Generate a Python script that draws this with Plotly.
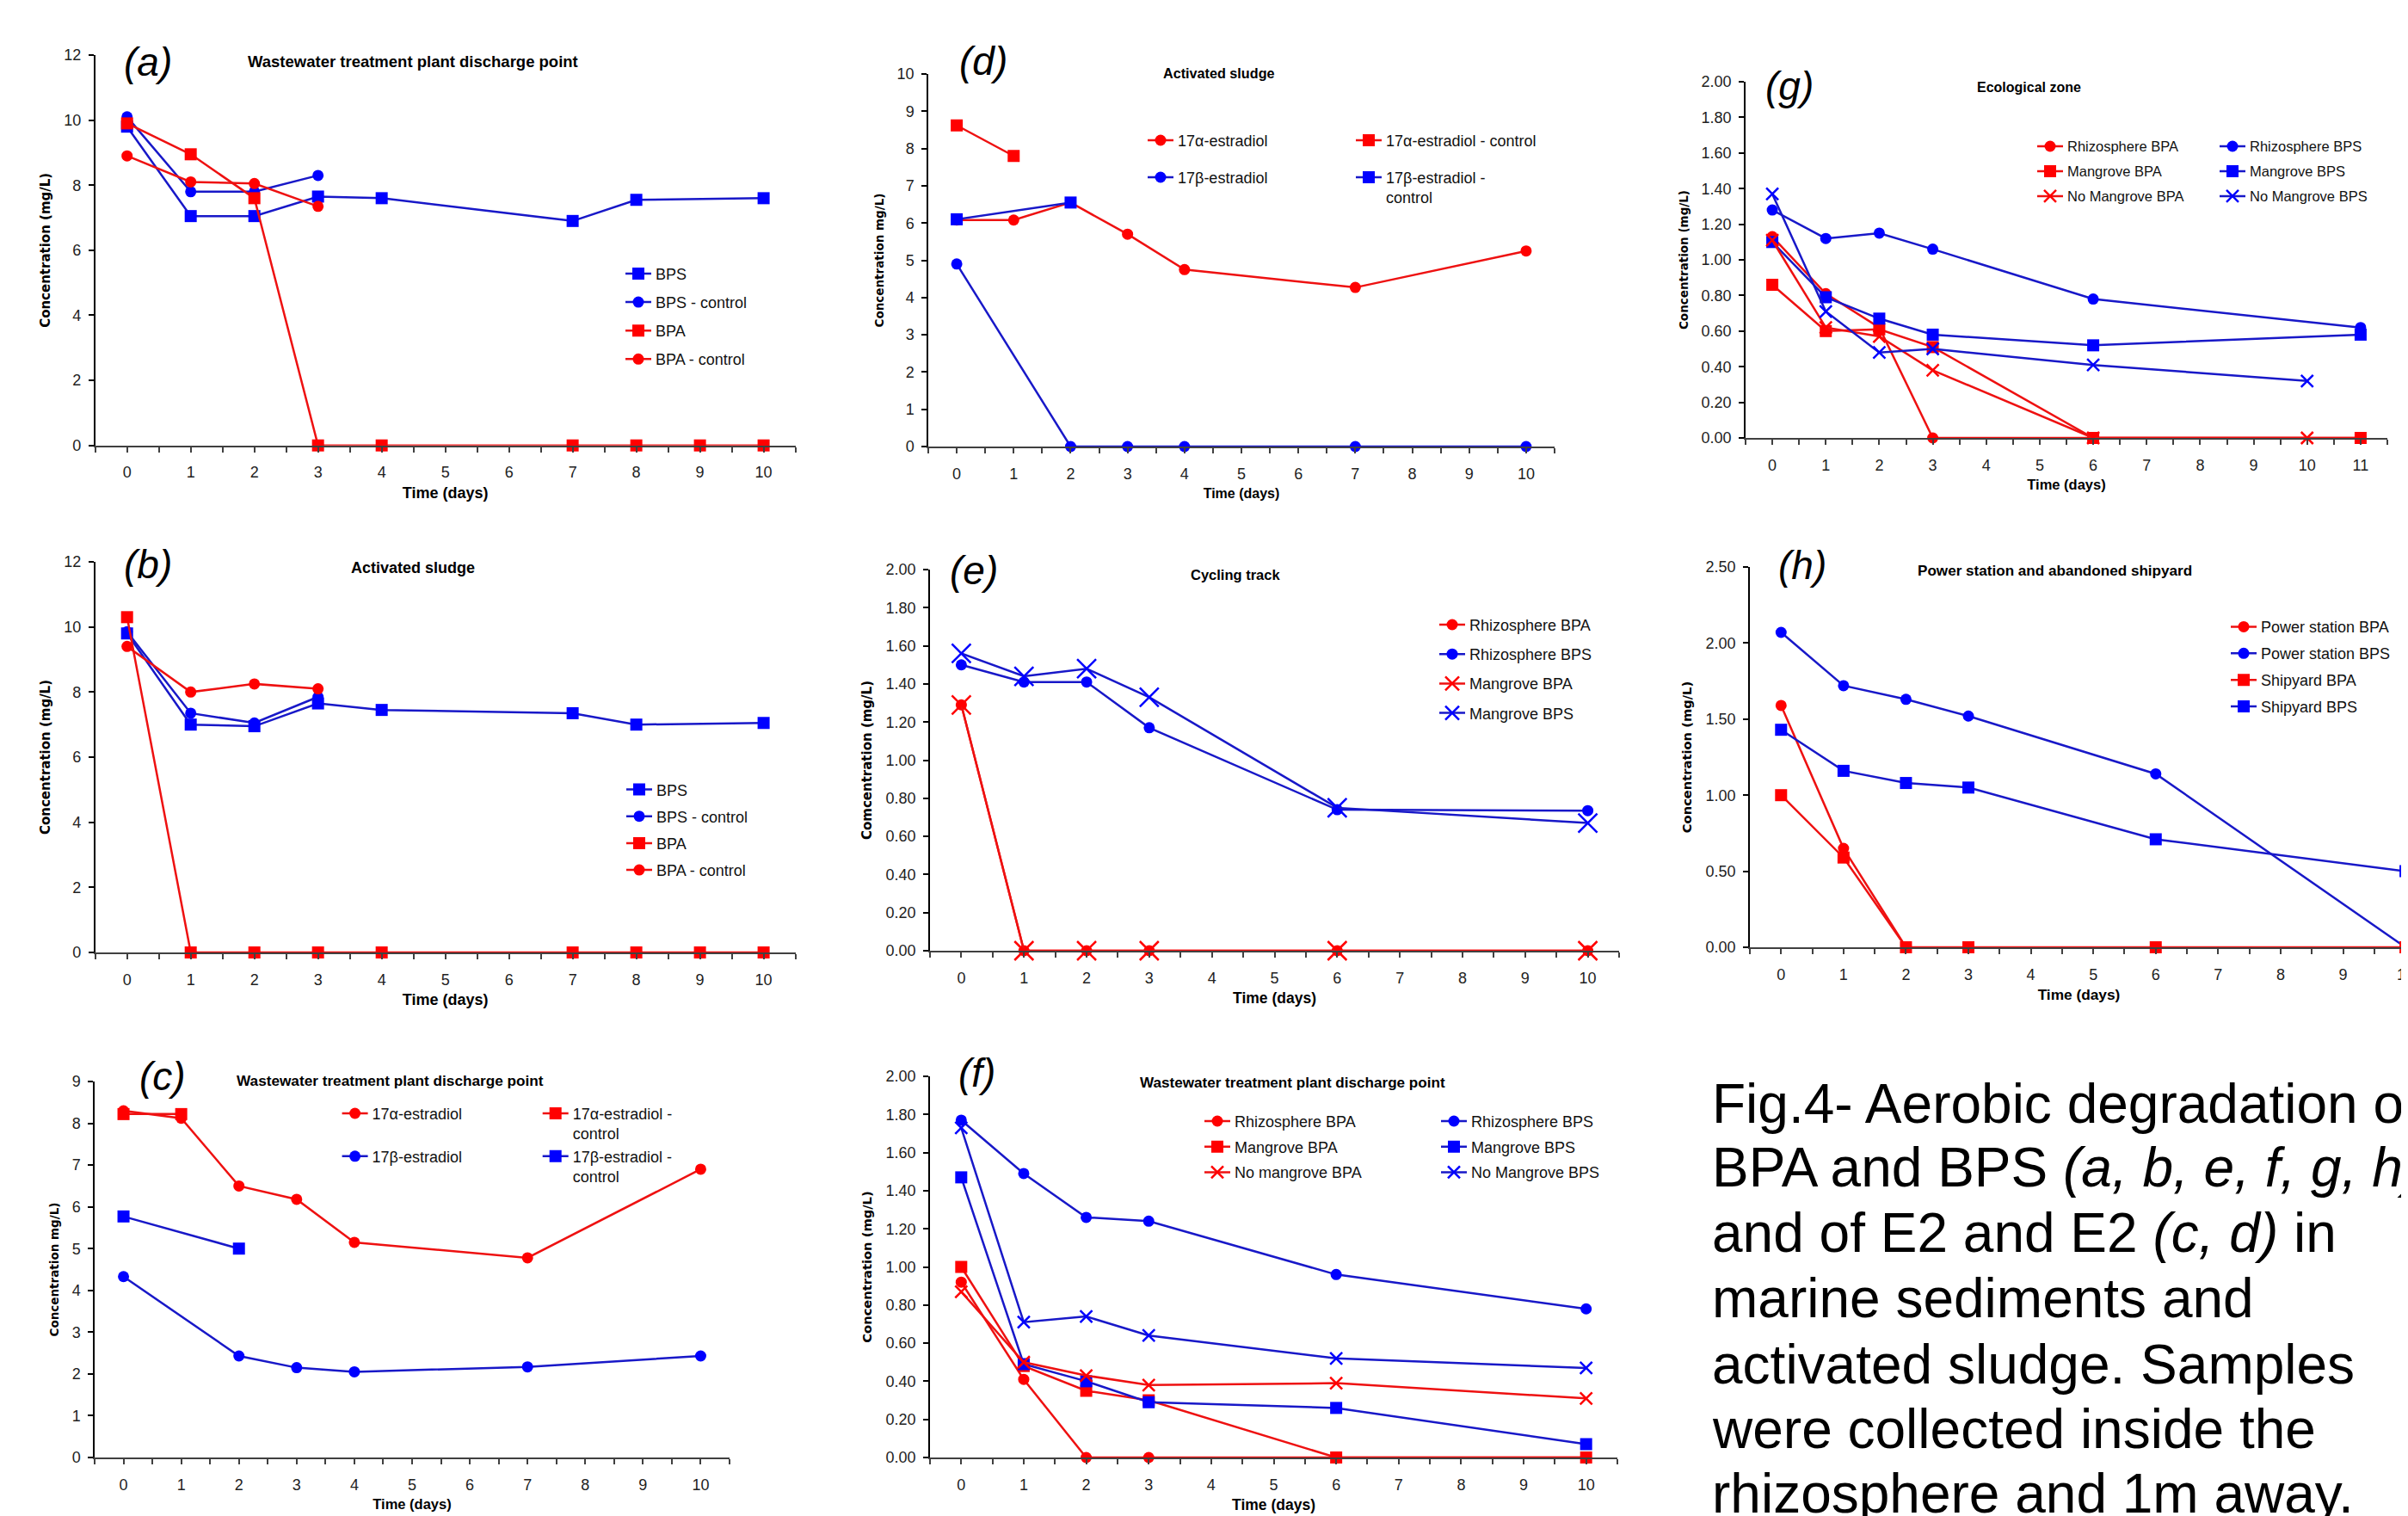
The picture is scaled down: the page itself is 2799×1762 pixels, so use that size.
import plotly.graph_objects as go

W, H = 2799, 1762
OFF = 8  # the page body margin shifts the figure by this many px
FW, FH = W - OFF, H - OFF

RED_L, RED_M = "#EE1111", "#FF0000"
BLUE_L, BLUE_M = "#1818C8", "#0000FF"

SQ, CI, XS, XL = 14, 13, 14, 22  # marker sizes: square, circle, small x, large x

# ---------------- data ----------------
# (a) Wastewater treatment plant discharge point
A_BPS_X, A_BPS_Y = [0, 1, 2, 3, 4, 7, 8, 10], [9.8, 7.05, 7.05, 7.65, 7.6, 6.9, 7.55, 7.6]
A_BPSC_X, A_BPSC_Y = [0, 1, 2, 3], [10.1, 7.8, 7.8, 8.3]
A_BPA_X, A_BPA_Y = [0, 1, 2, 3, 4, 7, 8, 9, 10], [9.9, 8.95, 7.6, 0, 0, 0, 0, 0, 0]
A_BPAC_X, A_BPAC_Y = [0, 1, 2, 3], [8.9, 8.1, 8.05, 7.35]
# (b) Activated sludge
B_BPS_X, B_BPS_Y = [0, 1, 2, 3, 4, 7, 8, 10], [9.8, 7.0, 6.95, 7.65, 7.45, 7.35, 7.0, 7.05]
B_BPSC_X, B_BPSC_Y = [0, 1, 2, 3], [9.85, 7.35, 7.05, 7.85]
B_BPA_X, B_BPA_Y = [0, 1, 2, 3, 4, 7, 8, 9, 10], [10.3, 0, 0, 0, 0, 0, 0, 0, 0]
B_BPAC_X, B_BPAC_Y = [0, 1, 2, 3], [9.4, 8.0, 8.25, 8.1]
# (c) Wastewater treatment plant discharge point (estradiol)
C_A_X, C_A_Y = [0, 1, 2, 3, 4, 7, 10], [8.3, 8.12, 6.5, 6.18, 5.15, 4.78, 6.9]
C_AC_X, C_AC_Y = [0, 1], [8.22, 8.22]
C_B_X, C_B_Y = [0, 2, 3, 4, 7, 10], [4.33, 2.43, 2.15, 2.05, 2.17, 2.43]
C_BC_X, C_BC_Y = [0, 2], [5.77, 5.0]
# (d) Activated sludge (estradiol)
D_A_X, D_A_Y = [0, 1, 2, 3, 4, 7, 10], [6.08, 6.08, 6.55, 5.7, 4.75, 4.27, 5.25]
D_AC_X, D_AC_Y = [0, 1], [8.62, 7.8]
D_B_X, D_B_Y = [0, 2, 3, 4, 7, 10], [4.9, 0, 0, 0, 0, 0]
D_BC_X, D_BC_Y = [0, 2], [6.1, 6.55]
# (e) Cycling track
E_X = [0, 1, 2, 3, 6, 10]
E_RBPA_Y = [1.29, 0, 0, 0, 0, 0]
E_RBPS_Y = [1.50, 1.41, 1.41, 1.17, 0.74, 0.735]
E_MBPA_Y = [1.29, 0, 0, 0, 0, 0]
E_MBPS_Y = [1.56, 1.44, 1.48, 1.33, 0.75, 0.67]
# (f) Wastewater treatment plant discharge point (sediments)
F_X = [0, 1, 2, 3, 6, 10]
F_RBPA_Y = [0.92, 0.41, 0, 0, 0, 0]
F_RBPS_Y = [1.77, 1.49, 1.26, 1.24, 0.96, 0.78]
F_MBPA_Y = [1.0, 0.48, 0.35, 0.30, 0, 0]
F_MBPS_Y = [1.47, 0.49, 0.40, 0.29, 0.26, 0.07]
F_NBPA_Y = [0.87, 0.50, 0.43, 0.38, 0.39, 0.31]
F_NBPS_Y = [1.73, 0.71, 0.74, 0.64, 0.52, 0.47]
# (g) Ecological zone
G_RBPA_X, G_RBPA_Y = [0, 1, 2, 3, 6, 11], [1.13, 0.81, 0.62, 0, 0, 0]
G_RBPS_X, G_RBPS_Y = [0, 1, 2, 3, 6, 11], [1.28, 1.12, 1.15, 1.06, 0.78, 0.62]
G_MBPA_X, G_MBPA_Y = [0, 1, 2, 3, 6, 11], [0.86, 0.60, 0.61, 0.51, 0, 0]
G_MBPS_X, G_MBPS_Y = [0, 1, 2, 3, 6, 11], [1.10, 0.79, 0.67, 0.58, 0.52, 0.58]
G_NBPA_X, G_NBPA_Y = [0, 1, 2, 3, 6, 10], [1.11, 0.62, 0.57, 0.38, 0, 0]
G_NBPS_X, G_NBPS_Y = [0, 1, 2, 3, 6, 10], [1.37, 0.71, 0.48, 0.50, 0.41, 0.32]
# (h) Power station and abandoned shipyard
H_PBPA_X, H_PBPA_Y = [0, 1, 2], [1.59, 0.65, 0]
H_PBPS_X, H_PBPS_Y = [0, 1, 2, 3, 6, 10], [2.07, 1.72, 1.63, 1.52, 1.14, 0.0]
H_SBPA_X, H_SBPA_Y = [0, 1, 2, 3, 6, 10], [1.0, 0.59, 0, 0, 0, 0]
H_SBPS_X, H_SBPS_Y = [0, 1, 2, 3, 6, 10], [1.43, 1.16, 1.08, 1.05, 0.71, 0.50]

DAY_LABELS_10 = [str(i) for i in range(11)]
DAY_LABELS_11 = [str(i) for i in range(12)]

CAPTION = [
    "Fig.4- Aerobic degradation of",
    "BPA and BPS <i>(a, b, e, f, g, h)</i>",
    "and of E2 and E2 <i>(c, d)</i> in",
    "marine sediments and",
    "activated sludge. Samples",
    "were collected inside the",
    "rhizosphere and 1m away.",
]

# ---------------- styling ----------------
FONT = "Liberation Sans, Arial, sans-serif"
YT_FONT = "DejaVu Sans, Verdana, sans-serif"

fig = go.Figure()


def px_x(v):
    return (v - OFF) / FW


def px_y(v):
    return 1 - (v - OFF) / FH


def add(ax, legend, x, y, name, red, symbol, size=12):
    lc, mc = (RED_L, RED_M) if red else (BLUE_L, BLUE_M)
    if symbol == "x-thin":
        marker = dict(symbol="x-thin", size=size, color=mc, line=dict(width=2.5, color=mc))
    else:
        marker = dict(symbol=symbol, size=size, color=mc, line=dict(width=0))
    sfx = "" if ax == 1 else str(ax)
    fig.add_trace(go.Scatter(
        x=x, y=y, name=name, mode="lines+markers",
        xaxis="x" + sfx, yaxis="y" + sfx,
        legend=legend, legendgroup=f"p{ax}-{name}",
        line=dict(color=lc, width=2.5), marker=marker,
        hoverinfo="x+y+name", cliponaxis=False,
    ))


# panel (a)
add(1, "legend", A_BPS_X, A_BPS_Y, "BPS", False, "square", SQ)
add(1, "legend", A_BPSC_X, A_BPSC_Y, "BPS - control", False, "circle", CI)
add(1, "legend", A_BPA_X, A_BPA_Y, "BPA", True, "square", SQ)
add(1, "legend", A_BPAC_X, A_BPAC_Y, "BPA - control", True, "circle", CI)
# panel (b)
add(2, "legend2", B_BPS_X, B_BPS_Y, "BPS", False, "square", SQ)
add(2, "legend2", B_BPSC_X, B_BPSC_Y, "BPS - control", False, "circle", CI)
add(2, "legend2", B_BPA_X, B_BPA_Y, "BPA", True, "square", SQ)
add(2, "legend2", B_BPAC_X, B_BPAC_Y, "BPA - control", True, "circle", CI)
# panel (c)
add(3, "legend3", C_A_X, C_A_Y, "17α-estradiol", True, "circle", CI)
add(3, "legend4", C_AC_X, C_AC_Y, "17α-estradiol -<br>control", True, "square", SQ)
add(3, "legend3", C_B_X, C_B_Y, "17β-estradiol", False, "circle", CI)
add(3, "legend4", C_BC_X, C_BC_Y, "17β-estradiol -<br>control", False, "square", SQ)
# panel (d)
add(4, "legend5", D_A_X, D_A_Y, "17α-estradiol", True, "circle", CI)
add(4, "legend6", D_AC_X, D_AC_Y, "17α-estradiol - control", True, "square", SQ)
add(4, "legend5", D_B_X, D_B_Y, "17β-estradiol", False, "circle", CI)
add(4, "legend6", D_BC_X, D_BC_Y, "17β-estradiol -<br>control", False, "square", SQ)
# panel (e)
add(5, "legend7", E_X, E_RBPA_Y, "Rhizosphere BPA", True, "circle", CI)
add(5, "legend7", E_X, E_RBPS_Y, "Rhizosphere BPS", False, "circle", CI)
add(5, "legend7", E_X, E_MBPA_Y, "Mangrove BPA", True, "x-thin", XL)
add(5, "legend7", E_X, E_MBPS_Y, "Mangrove BPS", False, "x-thin", XL)
# panel (f)
add(6, "legend8", F_X, F_RBPA_Y, "Rhizosphere BPA", True, "circle", CI)
add(6, "legend9", F_X, F_RBPS_Y, "Rhizosphere BPS", False, "circle", CI)
add(6, "legend8", F_X, F_MBPA_Y, "Mangrove BPA", True, "square", SQ)
add(6, "legend9", F_X, F_MBPS_Y, "Mangrove BPS", False, "square", SQ)
add(6, "legend8", F_X, F_NBPA_Y, "No mangrove BPA", True, "x-thin", XS)
add(6, "legend9", F_X, F_NBPS_Y, "No Mangrove BPS", False, "x-thin", XS)
# panel (g)
add(7, "legend10", G_RBPA_X, G_RBPA_Y, "Rhizosphere BPA", True, "circle", CI)
add(7, "legend11", G_RBPS_X, G_RBPS_Y, "Rhizosphere BPS", False, "circle", CI)
add(7, "legend10", G_MBPA_X, G_MBPA_Y, "Mangrove BPA", True, "square", SQ)
add(7, "legend11", G_MBPS_X, G_MBPS_Y, "Mangrove BPS", False, "square", SQ)
add(7, "legend10", G_NBPA_X, G_NBPA_Y, "No Mangrove BPA", True, "x-thin", XS)
add(7, "legend11", G_NBPS_X, G_NBPS_Y, "No Mangrove BPS", False, "x-thin", XS)
# panel (h)
add(8, "legend12", H_PBPA_X, H_PBPA_Y, "Power station BPA", True, "circle", CI)
add(8, "legend12", H_PBPS_X, H_PBPS_Y, "Power station BPS", False, "circle", CI)
add(8, "legend12", H_SBPA_X, H_SBPA_Y, "Shipyard BPA", True, "square", SQ)
add(8, "legend12", H_SBPS_X, H_SBPS_Y, "Shipyard BPS", False, "square", SQ)

# ---------------- axes ----------------
PANELS = [
    dict(box=(110.7, 924.6, 64, 517.7), xmax=10.5, labels=DAY_LABELS_10, ymax=12, dtick=2, fmt="d",
         ytitle="Concentration (mg/L)", yts=15, xts=18),
    dict(box=(110.7, 924.6, 653, 1107), xmax=10.5, labels=DAY_LABELS_10, ymax=12, dtick=2, fmt="d",
         ytitle="Concentration (mg/L)", yts=15, xts=18),
    dict(box=(110, 848, 1257, 1694), xmax=10.5, labels=DAY_LABELS_10, ymax=9, dtick=1, fmt="d",
         ytitle="Concentration mg/L)", yts=13.5, xts=16.5),
    dict(box=(1079, 1807, 86, 519), xmax=10.5, labels=DAY_LABELS_10, ymax=10, dtick=1, fmt="d",
         ytitle="Concentration mg/L)", yts=13.5, xts=16),
    dict(box=(1081, 1882, 662, 1105), xmax=10.5, labels=DAY_LABELS_10, ymax=2, dtick=0.2, fmt=".2f",
         ytitle="Comcentration (mg/L)", yts=15, xts=17.5),
    dict(box=(1081, 1880, 1251, 1694), xmax=10.5, labels=DAY_LABELS_10, ymax=2, dtick=0.2, fmt=".2f",
         ytitle="Concentration (mg/L)", yts=14.7, xts=17.5),
    dict(box=(2029, 2775, 95, 509), xmax=11.5, labels=DAY_LABELS_11, ymax=2, dtick=0.2, fmt=".2f",
         ytitle="Concentration (mg/L)", yts=13.5, xts=16.5),
    dict(box=(2034, 2799, 659, 1101), xmax=10.04, labels=DAY_LABELS_10, ymax=2.5, dtick=0.5, fmt=".2f",
         ytitle="Concentration (mg/L)", yts=14.7, xts=17.3),
]

layout = dict(
    width=FW, height=FH, margin=dict(l=0, r=0, t=0, b=0, autoexpand=False),
    paper_bgcolor="white", plot_bgcolor="white", showlegend=True,
    font=dict(family=FONT, color="black"),
)

for i, p in enumerate(PANELS, start=1):
    l, r, t, b = p["box"]
    sfx = "" if i == 1 else str(i)
    tv, tt = [], []
    k = -0.5
    while k <= p["xmax"] + 1e-9:
        tv.append(k)
        tt.append(p["labels"][int(k)] if float(k).is_integer() else "")
        k += 0.5
    layout["xaxis" + sfx] = dict(
        domain=[px_x(l), min(px_x(r), 1.0)], range=[-0.5, p["xmax"]], anchor="y" + sfx,
        tickmode="array", tickvals=tv, ticktext=tt, automargin=False, ticklabeloverflow="allow",
        ticks="outside", ticklen=6, tickwidth=1.5, tickcolor="#404040",
        showline=True, linecolor="#404040", linewidth=2,
        showgrid=False, zeroline=False,
        tickfont=dict(family=FONT, size=18, color="#222"), ticklabelstandoff=8,
        title=dict(text="<b>Time (days)</b>", font=dict(family=FONT, size=p["xts"]), standoff=8),
    )
    layout["yaxis" + sfx] = dict(
        domain=[px_y(b), px_y(t)], range=[0, p["ymax"]], anchor="x" + sfx,
        dtick=p["dtick"], tick0=0, tickformat=p["fmt"], automargin=False,
        ticks="outside", ticklen=6, tickwidth=1.5, tickcolor="black",
        showline=True, linecolor="black", linewidth=1.5,
        showgrid=False, zeroline=False,
        tickfont=dict(family=FONT, size=18, color="#222"), ticklabelstandoff=5,
        title=dict(text="<b>" + p["ytitle"] + "</b>", font=dict(family=YT_FONT, size=p["yts"]), standoff=12),
    )

# ---------------- legends ----------------
# (name, text-x px, first row centre px, font size, gap, valign)
LEGENDS = [
    ("legend", 762, 318, 18, 6.7, "middle"),
    ("legend2", 763, 917.5, 18, 4.8, "middle"),
    ("legend3", 432.6, 1294, 18, 23.4, "middle"),
    ("legend4", 665.7, 1294, 18, 0, "top"),
    ("legend5", 1369, 163, 18, 16.6, "middle"),
    ("legend6", 1611, 163, 18, 16.6, "top"),
    ("legend7", 1708, 726, 18, 7.8, "middle"),
    ("legend8", 1435, 1303, 18, 3.3, "middle"),
    ("legend9", 1710, 1303, 18, 3.3, "middle"),
    ("legend10", 2403, 170, 16.5, 4.5, "middle"),
    ("legend11", 2615, 170, 16.5, 4.5, "middle"),
    ("legend12", 2628, 728.4, 18, 4.5, "middle"),
]
for name, tx, cy, fs, gap, va in LEGENDS:
    item_h = fs * 1.3 + 3
    top = cy - 5 - item_h / 2
    layout[name] = dict(
        x=px_x(tx - 40), y=px_y(top), xanchor="left", yanchor="top",
        bgcolor="rgba(0,0,0,0)", borderwidth=0, font=dict(family=FONT, size=fs, color="#111"),
        tracegroupgap=gap, itemwidth=30, valign=va, traceorder="grouped",
    )

# ---------------- annotations ----------------
ann = []
TITLES = [
    ("Wastewater treatment plant discharge point", 480, 71, 18.5),
    ("Activated sludge", 480, 660, 18),
    ("Wastewater treatment plant discharge point", 453.5, 1256, 17.2),
    ("Activated sludge", 1417, 85, 16.2),
    ("Cycling track", 1435.5, 668, 16.5),
    ("Wastewater treatment plant discharge point", 1502.5, 1258, 17.1),
    ("Ecological zone", 2358.5, 101, 16),
    ("Power station and abandoned shipyard", 2388.5, 663, 17.1),
]
for txt, x, y, fs in TITLES:
    ann.append(dict(text="<b>" + txt + "</b>", x=px_x(x), y=px_y(y), xref="paper", yref="paper",
                    xanchor="center", yanchor="middle", showarrow=False,
                    font=dict(family=FONT, size=fs, color="black")))

PANEL_LABELS = [("(a)", 142, 72), ("(b)", 142, 656), ("(c)", 160, 1251), ("(d)", 1113, 71),
                ("(e)", 1102, 663), ("(f)", 1112, 1247), ("(g)", 2050, 99.5), ("(h)", 2065, 657)]
for txt, x, y in PANEL_LABELS:
    ann.append(dict(text="<i>" + txt + "</i>", x=px_x(x), y=px_y(y), xref="paper", yref="paper",
                    xanchor="left", yanchor="middle", showarrow=False,
                    font=dict(family=FONT, size=46, color="black")))

CAP_Y = [1283, 1357, 1433, 1509, 1586, 1661, 1736]
for txt, y in zip(CAPTION, CAP_Y):
    ann.append(dict(text=txt, x=px_x(1988), y=px_y(y), xref="paper", yref="paper",
                    xanchor="left", yanchor="middle", showarrow=False,
                    font=dict(family=FONT, size=64, color="black")))

layout["annotations"] = ann
fig.update_layout(**layout)
fig.write_html("out.html")
